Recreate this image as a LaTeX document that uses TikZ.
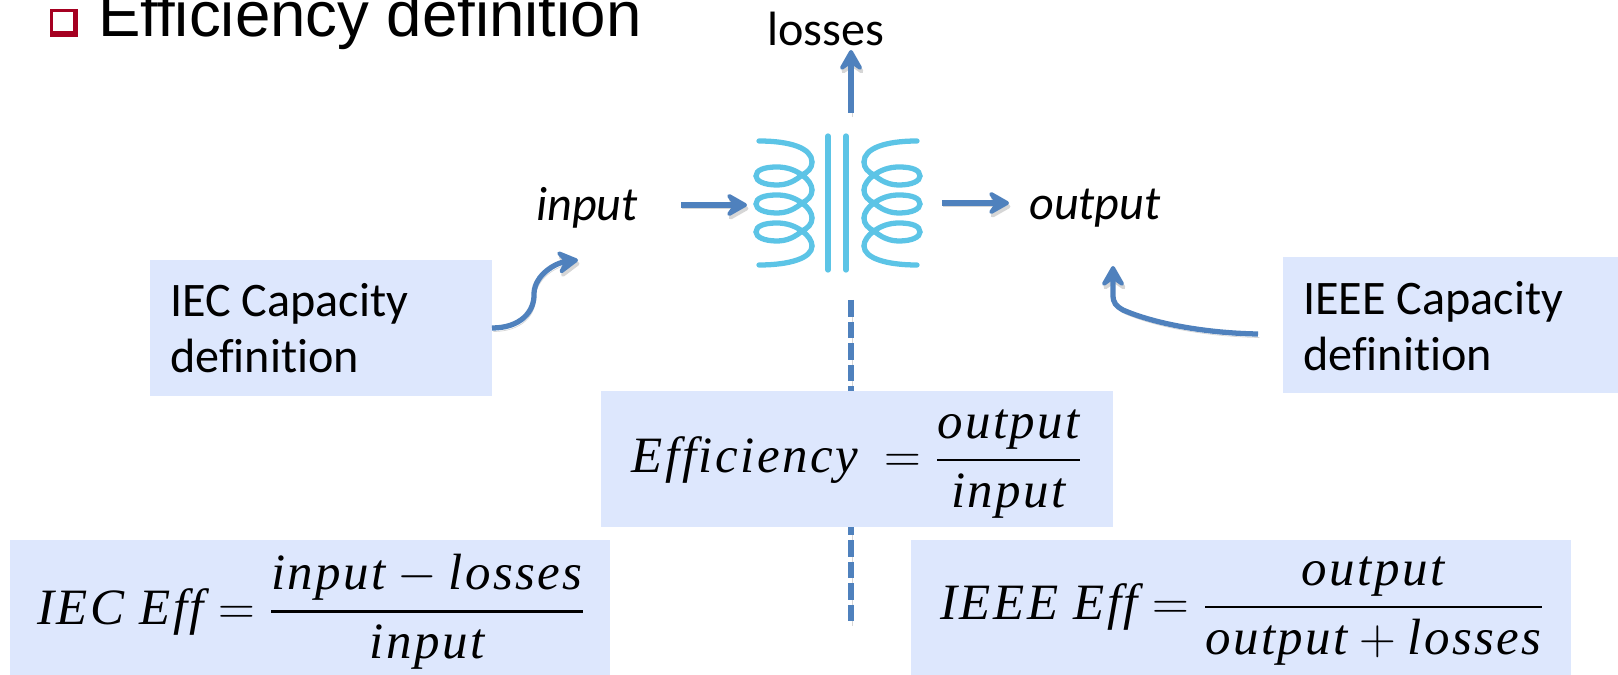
\documentclass[tikz,border=0pt]{standalone}
\usepackage{fix-cm}
\usepackage{amsmath}
\usepackage{fontspec}
\setmainfont{Carlito}[Ligatures=NoCommon]
\newfontfamily\titlefont{Liberation Sans}[Ligatures=NoCommon]
\newfontfamily\eqnfont{Liberation Serif}[LetterSpace=5,Ligatures=NoCommon]
\usetikzlibrary{arrows.meta}
\definecolor{boxblue}{RGB}{221,231,253}
\definecolor{arrowblue}{RGB}{79,129,189}
\definecolor{coilblue}{RGB}{92,196,230}
\definecolor{bulletred}{RGB}{165,0,33}
\newcommand{\ratio}[2]{\genfrac{}{}{1.6pt}{0}{#1}{#2}}
\newcommand{\eqnword}[1]{\text{\eqnfont\itshape #1}}
\tikzset{
	infobox/.style={rectangle,fill=boxblue,inner sep=0pt},
	labelstyle/.style={inner sep=0pt,font=\fontsize{27.4}{33}\selectfont},
	boxtext/.style={inner sep=0pt,align=left,anchor=west,font=\fontsize{27.4}{32}\selectfont},
	mathtext/.style={inner sep=0pt,font=\fontsize{29}{34}\selectfont},
	softshadow/.style={preaction={draw=black!16,transform canvas={shift={(0.8pt,-2pt)}}}},
	flowarrow/.style={softshadow,draw=arrowblue,line width=3pt,-{Stealth[length=15pt,width=17pt,inset=6pt,round]}},
	dashline/.style={softshadow,draw=arrowblue,line width=3.1pt,dash pattern=on 9.47pt off 2.83pt},
	coilline/.style={draw=coilblue,line width=3pt,line cap=round},
	coil/.pic={
		\draw[coilline] (759,141) .. controls (790,141) and (812,148) .. (812,162);
		\foreach \dy in {0,28,56} {
			\draw[coilline] (812,162+\dy) .. controls (812,168+\dy) and (808,172+\dy) .. (802,175+\dy)
				.. controls (795,181+\dy) and (787,185+\dy) .. (777,185+\dy)
				.. controls (764,185+\dy) and (756,181+\dy) .. (756,176+\dy)
				.. controls (756,170+\dy) and (764,167+\dy) .. (777,167+\dy)
				.. controls (787,167+\dy) and (795,170+\dy) .. (802,175+\dy)
				.. controls (808,179+\dy) and (812,185+\dy) .. (812,190+\dy);
		}
		\draw[coilline] (812,246) .. controls (812,258) and (790,265) .. (759,265);
	}
}
\begin{document}
\begin{tikzpicture}[x=0.02cm,y=-0.02cm]
	\useasboundingbox (0,0) rectangle (1618,675);
	% heading
	\fill[bulletred] (50,9) rectangle (78,37);
	\fill[white] (53,12) rectangle (73,31);
	\node[inner sep=0pt,anchor=base west] (heading) at (98,37) {\titlefont\fontsize{36.2}{37}\selectfont Efficiency definition};
	% dashes run under the boxes
	\coordinate (dashtop) at (851,300);
	\coordinate (dashmid) at (851,395);
	\coordinate (dashlow) at (851,518.3);
	\coordinate (dashend) at (851,622);
	\draw[dashline] (dashtop)--(dashmid);
	\draw[dashline] (dashlow)--(dashend);
	% boxes
	\node[infobox,minimum width=342*0.02cm,minimum height=136*0.02cm] (iecbox) at (321,328) {};
	\node[infobox,minimum width=335*0.02cm,minimum height=136*0.02cm] (ieeebox) at (1450.5,325) {};
	\node[infobox,minimum width=512*0.02cm,minimum height=136*0.02cm] (effbox) at (857,459) {};
	\node[infobox,minimum width=600*0.02cm,minimum height=135*0.02cm] (iecffbox) at (310,607.5) {};
	\node[infobox,minimum width=660*0.02cm,minimum height=135*0.02cm] (ieeeffbox) at (1241,607.5) {};
	% labels
	\node[labelstyle] (losses) at (826,29) {losses};
	\node[labelstyle] (input) at (587,208) {\itshape input};
	\node[labelstyle] (output) at (1095,208) {\itshape output};
	\node[boxtext] (iectext) at (170,328) {IEC Capacity\\definition};
	\node[boxtext] (ieeetext) at (1303,326) {IEEE Capacity\\definition};
	\node[mathtext] (efftext) at (857,464) {$\eqnword{Efficiency}\ =\ratio{\eqnword{output}}{\eqnword{input}}$};
	\node[mathtext] (iectxt) at (311,612) {$\eqnword{IEC Eff}=\ratio{\eqnword{input}-\eqnword{losses}}{\eqnword{input}}$};
	\node[mathtext] (ieeetxt) at (1242,611) {$\eqnword{IEEE Eff}=\ratio{\eqnword{output}}{\eqnword{output}+\eqnword{losses}}$};
	% transformer
	\pic (coilleft) at (0,0) {coil};
	\pic[xscale=-1] (coilright) at (1676,0) {coil};
	\draw[coilline] (828,136) -- (828,270);
	\draw[coilline] (846,136) -- (846,270);
	% arrows
	\coordinate (lossfoot) at (851,113);
	\coordinate (losstip) at (851,50);
	\coordinate (infoot) at (681,205);
	\coordinate (intip) at (747,205);
	\coordinate (outfoot) at (942,203);
	\coordinate (outtip) at (1009,203);
	\coordinate (iecfoot) at (492,328);
	\coordinate (iectip) at (578,260);
	\coordinate (ieeefoot) at (1258,334);
	\coordinate (ieeetip) at (1113,266);
	\draw[flowarrow] (lossfoot)--(losstip);
	\draw[flowarrow] (infoot)--(intip);
	\draw[flowarrow] (outfoot)--(outtip);
	\draw[flowarrow] (iecfoot) .. controls (520,328) and (535,312) .. (534,293) .. controls (535,275) and (555,263) .. (iectip);
	\draw[flowarrow] (ieeefoot) .. controls (1200,333) and (1150,322) .. (1123,310) .. controls (1116,306) and (1113,303) .. (1113,295) -- (ieeetip);
\end{tikzpicture}
\end{document}
